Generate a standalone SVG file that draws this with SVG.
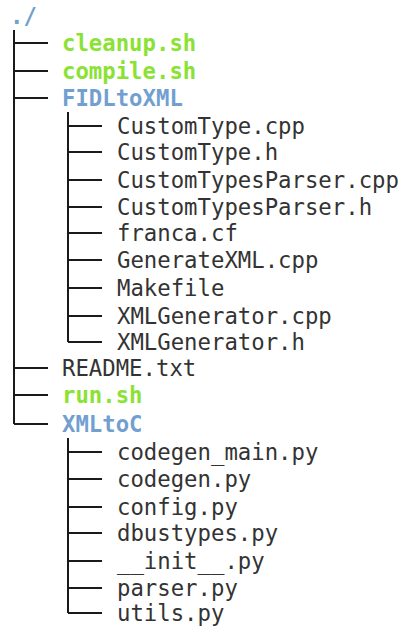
<svg xmlns="http://www.w3.org/2000/svg" width="401" height="628" viewBox="0 0 401 628">
<style>
text{font-family:"DejaVu Sans Mono","Liberation Mono",monospace;font-size:22.3px;fill:#333333}
.g{fill:#8ae234;font-weight:bold}
.b{fill:#729fcf;font-weight:bold}
.l{stroke:#1a1a1a;stroke-width:2;fill:none}
</style>
<rect width="401" height="628" fill="#ffffff"/>
<g id="connectors">
<path class="l" d="M14 30V424M14 43H48M14 71H48M14 98H48M14 368H48M14 395H48M14 424H48"/>
<path class="l" d="M68 112V342M68 126H102M68 152H102M68 180H102M68 207H102M68 233H102M68 260H102M68 288H102M68 316H102M68 342H102"/>
<path class="l" d="M68 438V613M68 452H102M68 479H102M68 507H102M68 533H102M68 561H102M68 588H102M68 613H102"/>
</g>
<g id="root"><text class="b" x="10" y="24">./</text></g>
<g id="cleanup"><text class="g" x="62" y="51">cleanup.sh</text></g>
<g id="compile"><text class="g" x="62" y="79">compile.sh</text></g>
<g id="FIDLtoXML"><text class="b" x="62" y="106">FIDLtoXML</text></g>
<g id="CustomType_cpp"><text x="117" y="134">CustomType.cpp</text></g>
<g id="CustomType_h"><text x="117" y="160">CustomType.h</text></g>
<g id="CustomTypesParser_cpp"><text x="117" y="188">CustomTypesParser.cpp</text></g>
<g id="CustomTypesParser_h"><text x="117" y="215">CustomTypesParser.h</text></g>
<g id="franca_cf"><text x="117" y="241">franca.cf</text></g>
<g id="GenerateXML_cpp"><text x="117" y="268">GenerateXML.cpp</text></g>
<g id="Makefile"><text x="117" y="296">Makefile</text></g>
<g id="XMLGenerator_cpp"><text x="117" y="324">XMLGenerator.cpp</text></g>
<g id="XMLGenerator_h"><text x="117" y="350">XMLGenerator.h</text></g>
<g id="README"><text x="62" y="376">README.txt</text></g>
<g id="run"><text class="g" x="62" y="403">run.sh</text></g>
<g id="XMLtoC"><text class="b" x="62" y="432">XMLtoC</text></g>
<g id="codegen_main"><text x="117" y="460">codegen_main.py</text></g>
<g id="codegen"><text x="117" y="487">codegen.py</text></g>
<g id="config"><text x="117" y="515">config.py</text></g>
<g id="dbustypes"><text x="117" y="541">dbustypes.py</text></g>
<g id="init"><text x="117" y="569">__init__.py</text></g>
<g id="parser"><text x="117" y="596">parser.py</text></g>
<g id="utils"><text x="117" y="621">utils.py</text></g>
</svg>
